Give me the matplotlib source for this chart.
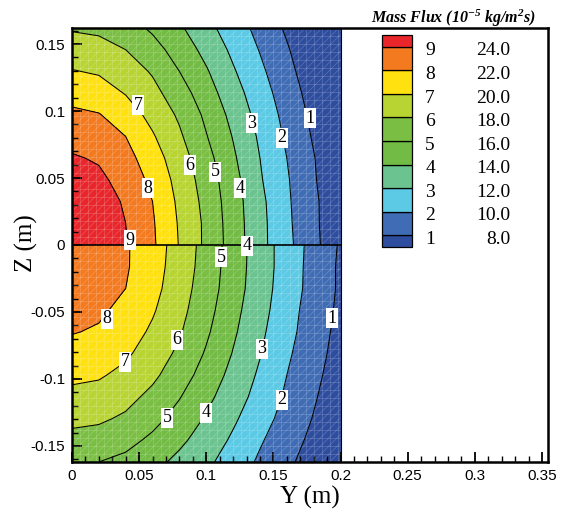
import numpy as np
import matplotlib
matplotlib.use("Agg")
import matplotlib.pyplot as plt
from matplotlib.ticker import MultipleLocator, FuncFormatter

# ---------------- data ----------------
Y = [0.0, 0.02, 0.04, 0.06, 0.08, 0.10, 0.12, 0.14, 0.16, 0.18, 0.20]
Z_top = [0.0, 0.0162, 0.0324, 0.0486, 0.0648, 0.081, 0.0972, 0.1134, 0.1296, 0.1458, 0.162]
Z_bot = [0.0, -0.0162, -0.0324, -0.0486, -0.0648, -0.081, -0.0972, -0.1134, -0.1296, -0.1458, -0.162]

# mass flux (1e-5 kg/m^2 s), rows follow Z, columns follow Y
flux_top = [
    [25.6, 25.2, 24.1, 22.3, 19.9, 17.6, 15.1, 12.6, 10.5, 8.5, 6.5],
    [25.4, 25.1, 24.0, 22.2, 19.8, 17.6, 15.0, 12.6, 10.4, 8.4, 6.5],
    [25.2, 24.8, 23.8, 22.0, 19.6, 17.4, 14.9, 12.5, 10.3, 8.4, 6.4],
    [24.7, 24.4, 23.3, 21.5, 19.3, 17.1, 14.7, 12.2, 10.2, 8.2, 6.3],
    [24.2, 23.8, 22.7, 20.9, 18.9, 16.7, 14.3, 12.0, 10.0, 8.1, 6.1],
    [23.3, 23.0, 22.0, 20.2, 18.3, 16.1, 13.9, 11.7, 9.7, 7.8, 5.9],
    [22.4, 22.1, 21.0, 19.4, 17.7, 15.6, 13.4, 11.3, 9.4, 7.5, 5.6],
    [21.3, 20.9, 19.9, 18.6, 16.9, 14.9, 12.8, 10.9, 9.0, 7.2, 5.3],
    [20.1, 19.8, 19.0, 17.8, 16.0, 14.2, 12.2, 10.4, 8.6, 6.8, 5.0],
    [19.0, 18.7, 18.0, 16.7, 15.2, 13.4, 11.6, 9.9, 8.2, 6.4, 4.6],
    [17.8, 17.6, 16.8, 15.7, 14.3, 12.6, 11.0, 9.4, 7.7, 6.0, 4.2],
]
flux_bot = [
    [23.4, 23.1, 22.2, 20.9, 19.2, 17.3, 15.1, 13.0, 11.1, 9.4, 7.8],
    [23.2, 23.0, 22.2, 20.8, 19.1, 17.2, 15.0, 13.0, 11.1, 9.3, 7.7],
    [23.0, 22.7, 22.0, 20.6, 18.9, 17.0, 14.9, 12.9, 11.0, 9.3, 7.7],
    [22.5, 22.3, 21.5, 20.2, 18.6, 16.7, 14.6, 12.7, 10.8, 9.1, 7.6],
    [22.1, 21.8, 20.9, 19.7, 18.2, 16.3, 14.3, 12.4, 10.6, 9.0, 7.4],
    [21.3, 21.0, 20.3, 19.1, 17.6, 15.8, 13.9, 12.1, 10.3, 8.8, 7.2],
    [20.4, 20.2, 19.5, 18.4, 16.9, 15.2, 13.4, 11.7, 10.0, 8.5, 7.0],
    [19.5, 19.3, 18.6, 17.5, 16.1, 14.5, 12.9, 11.3, 9.7, 8.2, 6.8],
    [18.5, 18.3, 17.7, 16.6, 15.3, 13.8, 12.3, 10.8, 9.3, 7.9, 6.5],
    [17.4, 17.2, 16.6, 15.6, 14.4, 13.1, 11.7, 10.2, 8.9, 7.5, 6.1],
    [16.2, 16.0, 15.5, 14.6, 13.5, 12.4, 11.1, 9.7, 8.4, 7.1, 5.8],
]

levels = [8, 10, 12, 14, 16, 18, 20, 22, 24]
level_ids = ['1', '2', '3', '4', '5', '6', '7', '8', '9']
band_colors = ['#2F4D9F', '#3F6CB5', '#5CC9E5', '#6BC38F', '#72BB45', '#7ABF43',
               '#B8D432', '#FFE10F', '#F47A20', '#E8262B']

# contour label texts and where they sit (Y, Z)
lab_text = ['7', '3', '2', '1', '6', '5', '8', '4', '9', '4', '5',
            '8', '1', '6', '3', '7', '2', '4', '5']
lab_y = [0.0491, 0.1340, 0.1564, 0.1772, 0.0879, 0.1065, 0.0566, 0.1251, 0.0432, 0.1303, 0.1110,
         0.0261, 0.1936, 0.0782, 0.1415, 0.0395, 0.1564, 0.0998, 0.0707]
lab_z = [0.1045, 0.0910, 0.0799, 0.0948, 0.0597, 0.0545, 0.0425, 0.0425, 0.0037, -0.0007, -0.0090,
         -0.0552, -0.0545, -0.0709, -0.0776, -0.0873, -0.1157, -0.1254, -0.1291]

# ---------------- figure ----------------
plt.rcParams['axes.unicode_minus'] = False
plt.rcParams['mathtext.fontset'] = 'custom'
plt.rcParams['mathtext.rm'] = 'Liberation Serif:bold:italic'
plt.rcParams['mathtext.it'] = 'Liberation Serif:bold:italic'
plt.rcParams['mathtext.bf'] = 'Liberation Serif:bold:italic'
plt.rcParams['hatch.color'] = (1, 1, 1, 0.22)
plt.rcParams['hatch.linewidth'] = 0.5

fig = plt.figure(figsize=(5.64, 5.12), dpi=100)
ax = fig.add_axes([72/564, 50/512, 476/564, 434/512])

bounds = [-100] + levels + [100]
for Zg, F in ((Z_top, flux_top), (Z_bot, flux_bot)):
    ax.contourf(Y, Zg, F, levels=bounds, colors=band_colors, hatches=['////'], zorder=1)
    ax.contour(Y, Zg, F, levels=levels, colors='k', linewidths=0.75, zorder=3)

# faint mesh over the field
for gx in np.arange(0.006, 0.2, 0.006):
    ax.plot([gx, gx], [-0.162, 0.162], color='white', alpha=0.18, lw=0.6, zorder=2)
for gz in np.arange(-0.162, 0.162, 0.006):
    ax.plot([0, 0.2], [gz, gz], color='white', alpha=0.18, lw=0.6, zorder=2)

ax.plot([0, 0.2], [0, 0], color='k', lw=1.2, zorder=4)
ax.plot([0.2, 0.2], [-0.162, 0.162], color='k', lw=0.8, zorder=4)

for t, yy, zz in zip(lab_text, lab_y, lab_z):
    ax.text(yy, zz, t, fontsize=13, family='Liberation Serif', ha='center', va='center',
            zorder=5, bbox=dict(boxstyle='square,pad=0.08', fc='white', ec='none'))

ax.set_xlim(0, 0.3545)
ax.set_ylim(-0.162, 0.162)
ax.xaxis.set_major_locator(MultipleLocator(0.05))
ax.xaxis.set_minor_locator(MultipleLocator(0.01))
ax.yaxis.set_major_locator(MultipleLocator(0.05))
ax.yaxis.set_minor_locator(MultipleLocator(0.01))
fmt = FuncFormatter(lambda v, p: ('%g' % round(v, 3)).replace('-0', '-0') if abs(v) > 1e-9 else '0')
ax.xaxis.set_major_formatter(fmt)
ax.yaxis.set_major_formatter(fmt)
ax.tick_params(which='major', direction='in', length=7, width=1.3, labelsize=11, pad=5,
               top=False, right=False, zorder=6)
ax.tick_params(which='minor', direction='in', length=4, width=1.0, top=False, right=False)
for lab in ax.get_xticklabels() + ax.get_yticklabels():
    lab.set_family('Liberation Sans')
for s in ax.spines.values():
    s.set_linewidth(1.8)
    s.set_zorder(7)

fig.text(310/564, 1 - 497/512, 'Y (m)', fontsize=18, family='Liberation Serif', ha='center', va='center')
fig.text(26/564, 1 - 243/512, 'Z (m)', fontsize=18, family='Liberation Serif', ha='center', va='center',
         rotation=90)

# ---------------- legend ----------------
lax = fig.add_axes([382/564, 1 - 247/512, 30/564, 212/512])
lax.set_xlim(0, 1)
lax.set_ylim(7, 25)
lax.axis('off')
box_bottom = [7] + levels
box_height = [1] + [2] * 8 + [1]
lax.bar([0.5] * 10, box_height, bottom=box_bottom, width=1, color=band_colors,
        edgecolor='k', linewidth=0.9, clip_on=False)
for lid, v in zip(level_ids, levels):
    lax.text(1.6, v - 0.35, lid, fontsize=14, family='Liberation Serif', ha='center', va='center')
    lax.text(4.27, v - 0.35, '%.1f' % v, fontsize=14, family='Liberation Serif', ha='right', va='center')

fig.text(453/564, 1 - 18/512, r'Mass Flux (10$^{-5}$ kg/m$^2$s)', fontsize=11.5,
         family='Liberation Serif', style='italic', weight='bold', ha='center', va='center')

fig.savefig("out.png")
